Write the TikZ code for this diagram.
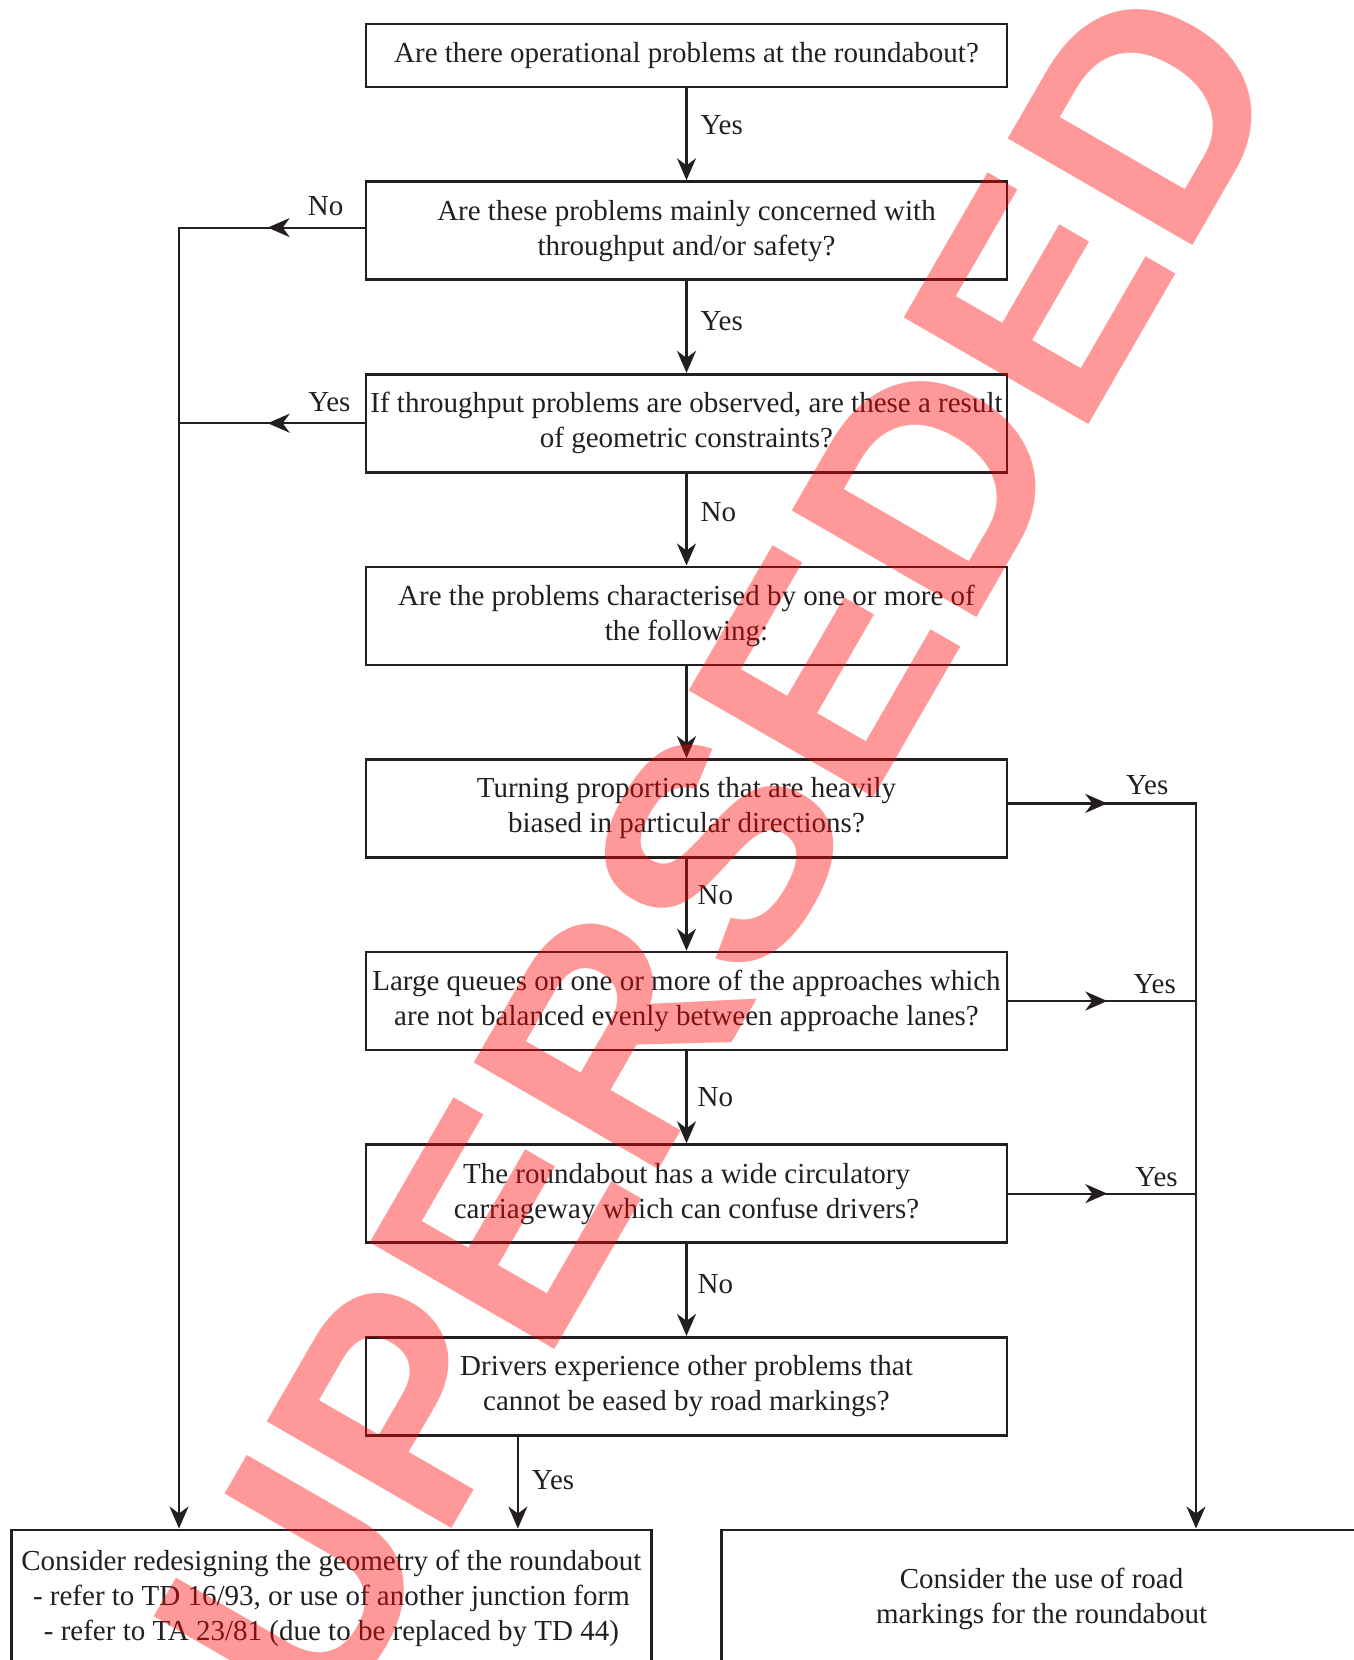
\documentclass[tikz,border=0pt]{standalone}
\usepackage{fontspec}
\setmainfont{Liberation Serif}
\newfontfamily\stampfont{Liberation Sans}
\usetikzlibrary{calc}
\usetikzlibrary{positioning}
\usetikzlibrary{arrows.meta,decorations.markings}
\definecolor{ink}{RGB}{35,31,32}
\tikzset{
	>={Stealth[length=11pt, width=9.5pt, inset=3.5pt]},
	askbox/.style={
		rectangle,
		draw=ink, line width=1.3pt,
		text=ink,
		minimum width=320.5pt,
		minimum height=49pt,
		inner xsep=1pt,
		align=center,
		font=\fontsize{14.5pt}{17.5pt}\selectfont},
	endbox/.style={askbox, minimum width=320pt, minimum height=69pt},
	line/.style={draw=ink, line width=1.1pt},
	yesno/.style={font=\fontsize{14.5pt}{17.5pt}\selectfont, text=ink, inner sep=0pt, right=6.5pt, pos=0.44},
	sidelbl/.style={font=\fontsize{14.5pt}{17.5pt}\selectfont, text=ink, inner sep=0pt, above=5.5pt},
	midarrow/.style={postaction={decorate},
		decoration={markings, mark=at position #1 with {\arrow{>}}}},
	stamp/.style={font=\stampfont\bfseries\fontsize{155pt}{160pt}\selectfont,
		text=red, text opacity=0.4, rotate=60, anchor=base, inner sep=0pt},
}

\begin{document}
\begin{tikzpicture}
	[x=0.5pt, y=-0.5pt,
	node distance=46pt]
	\useasboundingbox (0,0) rectangle (1354,1660);

	\node[askbox, minimum height=31.5pt] (operational) at (686.5,55.5)
		{Are there operational problems at the roundabout?};
	\node[askbox, below=of operational] (throughput)
		{Are these problems mainly concerned with\\throughput and/or safety?};
	\node[askbox, below=of throughput] (geometric)
		{If throughput problems are observed, are these a result\\of geometric constraints?};
	\node[askbox, below=of geometric] (characterised)
		{Are the problems characterised by one or more of\\the following:};
	\node[askbox, below=of characterised] (turning)
		{Turning proportions that are heavily\\biased in particular directions?};
	\node[askbox, below=of turning] (queues)
		{Large queues on one or more of the approaches which\\are not balanced evenly between approache lanes?};
	\node[askbox, below=of queues] (circulatory)
		{The roundabout has a wide circulatory\\carriageway which can confuse drivers?};
	\node[askbox, below=of circulatory] (drivers)
		{Drivers experience other problems that\\cannot be eased by road markings?};
	\node[endbox, below left=46pt and -144pt of drivers] (redesign)
		{Consider redesigning the geometry of the roundabout\\- refer to TD 16/93, or use of another junction form\\- refer to TA 23/81 (due to be replaced by TD 44)};
	\node[endbox, below right=46pt and -144pt of drivers] (markings)
		{Consider the use of road\\markings for the roundabout};

	% the two side rails
	\coordinate (leftrail) at (179,0);
	\coordinate (rightrail) at (1196,0);
	\coordinate (drop) at ($(drivers.south west)!0.238!(drivers.south east)$);
	\coordinate (nofork) at ([yshift=1.5pt]throughput.west);
	\coordinate (yesfork) at ([yshift=2.5pt]turning.east);

	% main column
	\draw[line, ->] (operational) -- node[yesno, pos=0.4] {Yes} (throughput);
	\draw[line, ->] (throughput) -- node[yesno] {Yes} (geometric);
	\draw[line, ->] (geometric) -- node[yesno, pos=0.42] {No} (characterised);
	\draw[line, ->] (characterised) -- (turning);
	\draw[line, ->] (turning) -- node[yesno, pos=0.4, right=5pt] {No} (queues);
	\draw[line, ->] (queues) -- node[yesno, pos=0.5, right=5pt] {No} (circulatory);
	\draw[line, ->] (circulatory) -- node[yesno, right=5pt] {No} (drivers);
	\draw[line, ->] (drop) -- node[yesno, pos=0.47] {Yes} (drop |- redesign.north);

	% left side
	\draw[line, ->, midarrow=48.5pt] (nofork) -- node[sidelbl, pos=0.21] {No}
		(nofork -| leftrail) -- (redesign.north -| leftrail);
	\draw[line, midarrow=48.5pt] (geometric.west) -- node[sidelbl, pos=0.19, above=5pt] {Yes}
		(geometric.west -| leftrail);

	% right side
	\draw[line, ->, midarrow=49.5pt] (yesfork) -- node[sidelbl, pos=0.74, above=4pt] {Yes}
		(yesfork -| rightrail) -- (markings.north -| rightrail);
	\draw[line, midarrow=49.5pt] (queues.east) -- node[sidelbl, pos=0.78, above=3pt] {Yes}
		(queues.east -| rightrail);
	\draw[line, midarrow=49.5pt] (circulatory.east) -- node[sidelbl, pos=0.79, above=3pt] {Yes}
		(circulatory.east -| rightrail);

	\node[stamp] (superseded) at (760,994) {SUPERSEDED};
\end{tikzpicture}
\end{document}
